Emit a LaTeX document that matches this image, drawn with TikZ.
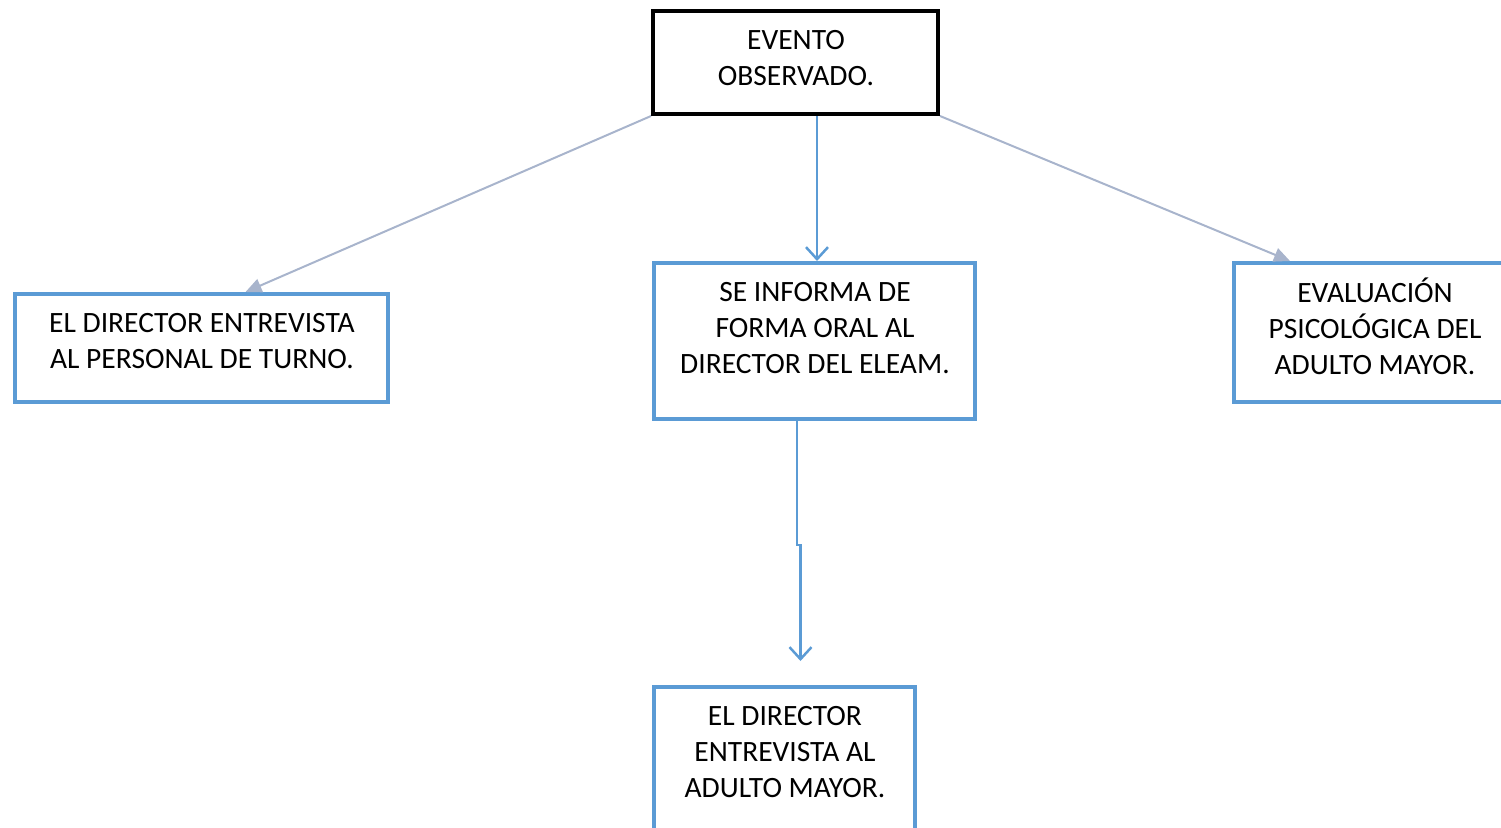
\documentclass[tikz,border=0pt]{standalone}
\usepackage{fontspec}
\setmainfont{Carlito}
\usetikzlibrary{arrows.meta}

\definecolor{boxblue}{RGB}{91,155,213}
\definecolor{linkgray}{RGB}{168,180,204}

\begin{document}
\begin{tikzpicture}[x=1pt, y=-1pt,
    box/.style={draw=boxblue, line width=4pt, inner sep=0pt},
    txt/.style={align=center, inner sep=0pt, font=\fontsize{29.5}{36}\selectfont},
    graylink/.style={draw=linkgray, line width=2pt, -{Triangle[length=16pt,width=14pt]}},
    bluelink/.style={draw=boxblue, line width=2.5pt, -{Straight Barb[length=12pt,width=22pt,line width=2.5pt]}}]

\useasboundingbox (0,0) rectangle (1501,827);
\clip (0,0) rectangle (1501,827);

% Top box
\node[box, draw=black, minimum width=285pt, minimum height=103pt] (evento) at (795.5,62.5) {};
\node[txt] (evento-t) at (796,58.5) {EVENTO\\OBSERVADO.};

% Middle row
\node[box, minimum width=373pt, minimum height=108pt] (personal) at (201.5,348) {};
\node[txt] (personal-t) at (202,341.5) {EL DIRECTOR ENTREVISTA\\AL PERSONAL DE TURNO.};

\node[box, minimum width=321pt, minimum height=156pt] (informa) at (814.5,341) {};
\node[txt] (informa-t) at (815,328.5) {SE INFORMA DE\\FORMA ORAL AL\\DIRECTOR DEL ELEAM.};

\node[box, minimum width=284pt, minimum height=139pt] (evaluacion) at (1376,332.5) {};
\node[txt] (evaluacion-t) at (1375,326) {EVALUACIÓN\\PSICOLÓGICA DEL\\ADULTO MAYOR.};

% Bottom box
\node[box, minimum width=261pt, minimum height=156pt] (adulto) at (784.5,765) {};
\node[txt] (adulto-t) at (785,752.5) {EL DIRECTOR\\ENTREVISTA AL\\ADULTO MAYOR.};

% Links
\draw[graylink] (evento.south west) -- ([xshift=44pt]personal.north);
\draw[graylink] (evento.south east) -- ([xshift=-86pt]evaluacion.north);
\draw[bluelink] ([xshift=21.5pt]evento.south) -- ([xshift=21.5pt]evento.south |- informa.north);
\draw[bluelink] ([xshift=-17.5pt]informa.south) -- ++(0,124) -| ([xshift=16pt,yshift=24pt]adulto.north);

\end{tikzpicture}
\end{document}
